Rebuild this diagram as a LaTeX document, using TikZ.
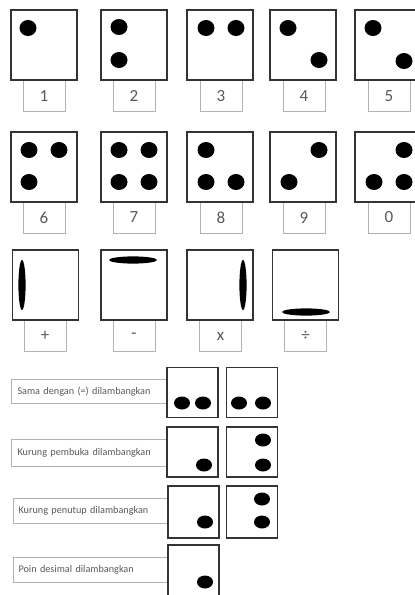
\documentclass[tikz,border=0pt]{standalone}
\usepackage{fontspec}
\setmainfont{Carlito}
\tikzset{
  cell/.style={draw=black!80, line width=1.6pt, minimum width=66pt, minimum height=70pt, inner sep=0pt},
  small/.style={draw=black!80, line width=1.6pt, minimum width=51pt, minimum height=50pt, inner sep=0pt},
  lab/.style={draw=black!30, line width=0.8pt, fill=white, minimum width=42pt, minimum height=31pt, inner sep=0pt, font=\fontsize{17}{17}\selectfont, text=black!65},
  desc/.style={draw=black!30, line width=0.8pt, minimum width=155pt, inner sep=0pt, text width=143pt, align=left, font=\fontsize{10.2}{11}\selectfont, text=black!65},
  bigdot/.style={fill=black},
}
\begin{document}
\begin{tikzpicture}[x=1pt,y=-1pt]
\useasboundingbox (0,0) rectangle (415,595);
% ---- row 1
\node[lab] (l1) at (44,96) {1};
\node[lab] (l2) at (134,96) {2};
\node[lab] (l3) at (221,96) {3};
\node[lab] (l4) at (304,96) {4};
\node[lab] (l5) at (389,96) {5};
\node[cell] (c1) at (44,45) {};
\node[cell] (c2) at (134,45) {};
\node[cell] (c3) at (220,45) {};
\node[cell] (c4) at (303,45) {};
\node[cell] (c5) at (388,45) {};
\fill[bigdot] (28,28) ellipse (8.5 and 8);
\fill[bigdot] (119,27) ellipse (8.5 and 8);
\fill[bigdot] (119,60) ellipse (8.5 and 8);
\fill[bigdot] (206,28) ellipse (8.5 and 8);
\fill[bigdot] (236,28) ellipse (8.5 and 8);
\fill[bigdot] (288,28) ellipse (8.5 and 8);
\fill[bigdot] (319,60) ellipse (8.5 and 8);
\fill[bigdot] (373,28) ellipse (8.5 and 8);
\fill[bigdot] (404,61) ellipse (8.5 and 8);
% ---- row 2
\node[lab] (l6) at (44,217.5) {6};
\node[lab] (l7) at (134,217.5) {7};
\node[lab] (l8) at (221,217.5) {8};
\node[lab] (l9) at (304,217.5) {9};
\node[lab] (l0) at (389,217.5) {0};
\node[cell] (c6) at (44,167) {};
\node[cell] (c7) at (134,167) {};
\node[cell] (c8) at (220,167) {};
\node[cell] (c9) at (303,167) {};
\node[cell] (c0) at (388,167) {};
\fill[bigdot] (29,150) ellipse (8.5 and 8);
\fill[bigdot] (59,150) ellipse (8.5 and 8);
\fill[bigdot] (29,182) ellipse (8.5 and 8);
\fill[bigdot] (119,150) ellipse (8.5 and 8);
\fill[bigdot] (149,150) ellipse (8.5 and 8);
\fill[bigdot] (119,182) ellipse (8.5 and 8);
\fill[bigdot] (149,182) ellipse (8.5 and 8);
\fill[bigdot] (206,150) ellipse (8.5 and 8);
\fill[bigdot] (206,182) ellipse (8.5 and 8);
\fill[bigdot] (236,182) ellipse (8.5 and 8);
\fill[bigdot] (319,150) ellipse (8.5 and 8);
\fill[bigdot] (289,182) ellipse (8.5 and 8);
\fill[bigdot] (404,150) ellipse (8.5 and 8);
\fill[bigdot] (374,182) ellipse (8.5 and 8);
\fill[bigdot] (404,182) ellipse (8.5 and 8);
% ---- row 3
\node[lab] (lp) at (45,336) {+};
\node[lab] (lm) at (134,336) {-};
\node[lab] (lx) at (220.5,336) {x};
\node[lab] (ld) at (305.5,336) {÷};
\node[cell] (cp) at (45.5,285) {};
\node[cell] (cm) at (134,285) {};
\node[cell] (cx) at (220,285) {};
\node[cell] (cd) at (305.5,285) {};
\fill[bigdot] (22,285) ellipse (3.6 and 25);
\fill[bigdot] (133,260) ellipse (24 and 3.6);
\fill[bigdot] (243,285) ellipse (3.6 and 25);
\fill[bigdot] (306,312) ellipse (24 and 3.6);
% ---- row 4
\node[desc] (t1) at (89,391.5) [minimum height=24pt] {Sama dengan (=) dilambangkan};
\node[small] (s1a) at (192.5,392.5) {};
\node[small] (s1b) at (252,392.5) {};
\fill[bigdot] (182,403) ellipse (8 and 6.5);
\fill[bigdot] (203,403) ellipse (8 and 6.5);
\fill[bigdot] (239,403) ellipse (8 and 6.5);
\fill[bigdot] (263,403) ellipse (8 and 6.5);
% ---- row 5
\node[desc] (t2) at (89,452.5) [minimum height=27pt] {Kurung pembuka dilambangkan};
\node[small] (s2a) at (192.5,452) {};
\node[small] (s2b) at (252,452) {};
\fill[bigdot] (204,465) ellipse (8 and 6.5);
\fill[bigdot] (263,440) ellipse (8 and 6.5);
\fill[bigdot] (263,465) ellipse (8 and 6.5);
% ---- row 6
\node[desc] (t3) at (90,510.5) [minimum height=25pt, minimum width=154pt] {Kurung penutup dilambangkan};
\node[small] (s3a) at (193.5,512) [minimum height=52pt] {};
\node[small] (s3b) at (252,512) [minimum height=52pt] {};
\fill[bigdot] (205,522) ellipse (8 and 6.5);
\fill[bigdot] (262,499) ellipse (8 and 6.5);
\fill[bigdot] (262,522) ellipse (8 and 6.5);
% ---- row 7
\node[desc] (t4) at (90,569.5) [minimum height=25pt, minimum width=154pt] {Poin desimal dilambangkan};
\node[small] (s4a) at (193.5,572) [minimum height=54pt] {};
\fill[bigdot] (205,582) ellipse (8 and 6.5);
\end{tikzpicture}
\end{document}
